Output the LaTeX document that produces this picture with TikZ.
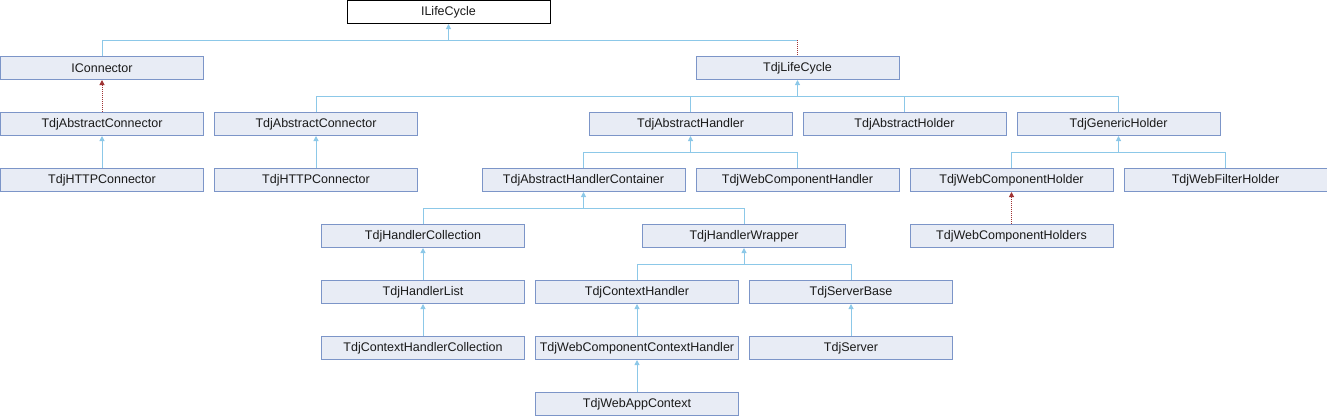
\documentclass[tikz,border=0pt]{standalone}
\usepackage{fontspec}
\setmainfont{Liberation Sans}
\usetikzlibrary{arrows.meta}
\definecolor{boxfill}{HTML}{E8ECF5}
\definecolor{boxborder}{HTML}{7C95C8}
\definecolor{linkblue}{HTML}{8CC8E8}
\definecolor{implred}{HTML}{A03434}
\definecolor{textc}{HTML}{1A1A1A}
\begin{document}
\begin{tikzpicture}[x=1pt,y=-1pt,
  cls/.style={draw=boxborder, fill=boxfill, line width=1pt, minimum width=203pt, minimum height=23pt, inner sep=0pt, font=\fontsize{12.5}{14}\selectfont, text=textc},
  topcls/.style={cls, draw=black, fill=white},
  lnk/.style={draw=linkblue, line width=1pt},
  arr/.style={lnk, -{Triangle[width=5pt,length=5pt]}},
  impl/.style={draw=implred, line width=1pt, dash pattern=on 1pt off 1pt},
  iarr/.style={impl, -{Triangle[width=5pt,length=5pt]}}]
\useasboundingbox (0,0) rectangle (1327,416);
% row 0
\node[topcls] (ilc) at (448.5,12) {ILifeCycle};
% row 1
\node[cls] (icon) at (102,68) {IConnector};
\node[cls] (tlc) at (797.5,68) {TdjLifeCycle};
% row 2
\node[cls] (acA) at (102,124) {TdjAbstractConnector};
\node[cls] (acB) at (316,124) {TdjAbstractConnector};
\node[cls] (ah) at (690.5,124) {TdjAbstractHandler};
\node[cls] (aho) at (904.5,124) {TdjAbstractHolder};
\node[cls] (gh) at (1118.5,124) {TdjGenericHolder};
% row 3
\node[cls] (httpA) at (102,180) {TdjHTTPConnector};
\node[cls] (httpB) at (316,180) {TdjHTTPConnector};
\node[cls] (ahc) at (583.5,180) {TdjAbstractHandlerContainer};
\node[cls] (wch) at (797.5,180) {TdjWebComponentHandler};
\node[cls] (wcho) at (1011.5,180) {TdjWebComponentHolder};
\node[cls] (wfh) at (1225.5,180) {TdjWebFilterHolder};
% row 4
\node[cls] (hc) at (423,236) {TdjHandlerCollection};
\node[cls] (hw) at (744,236) {TdjHandlerWrapper};
\node[cls] (wchs) at (1011.5,236) {TdjWebComponentHolders};
% row 5
\node[cls] (hl) at (423,292) {TdjHandlerList};
\node[cls] (ch) at (637,292) {TdjContextHandler};
\node[cls] (sb) at (851,292) {TdjServerBase};
% row 6
\node[cls] (chc) at (423,348) {TdjContextHandlerCollection};
\node[cls] (wcch) at (637,348) {TdjWebComponentContextHandler};
\node[cls] (srv) at (851,348) {TdjServer};
% row 7
\node[cls] (wac) at (637,404) {TdjWebAppContext};

% buses
\coordinate (b0) at (448.5,40);
\coordinate (b1) at (797.5,96);
\coordinate (b2) at (690.5,152);
\coordinate (b2g) at (1118.5,152);
\coordinate (b3) at (583.5,208);
\coordinate (b4) at (744,264);

% ILifeCycle
\draw[lnk] (icon.north) |- (b0);
\draw[lnk] (b0) -- (b0 -| tlc.north);
\draw[impl] (b0 -| tlc.north) -- (tlc.north);
\draw[arr] (b0) -- (ilc.south);
% TdjLifeCycle
\draw[lnk] (acB.north) |- (b1);
\draw[lnk] (ah.north) |- (b1);
\draw[lnk] (aho.north) |- (b1);
\draw[lnk] (gh.north) |- (b1);
\draw[arr] (b1) -- (tlc.south);
% TdjAbstractHandler
\draw[lnk] (ahc.north) |- (b2);
\draw[lnk] (wch.north) |- (b2);
\draw[arr] (b2) -- (ah.south);
% TdjGenericHolder
\draw[lnk] (wcho.north) |- (b2g);
\draw[lnk] (wfh.north) |- (b2g);
\draw[arr] (b2g) -- (gh.south);
% TdjAbstractHandlerContainer
\draw[lnk] (hc.north) |- (b3);
\draw[lnk] (hw.north) |- (b3);
\draw[arr] (b3) -- (ahc.south);
% TdjHandlerWrapper
\draw[lnk] (ch.north) |- (b4);
\draw[lnk] (sb.north) |- (b4);
\draw[arr] (b4) -- (hw.south);
% direct
\draw[iarr] (acA.north) -- (icon.south);
\draw[arr] (httpA.north) -- (acA.south);
\draw[arr] (httpB.north) -- (acB.south);
\draw[iarr] (wchs.north) -- (wcho.south);
\draw[arr] (hl.north) -- (hc.south);
\draw[arr] (chc.north) -- (hl.south);
\draw[arr] (wcch.north) -- (ch.south);
\draw[arr] (wac.north) -- (wcch.south);
\draw[arr] (srv.north) -- (sb.south);
\end{tikzpicture}
\end{document}
